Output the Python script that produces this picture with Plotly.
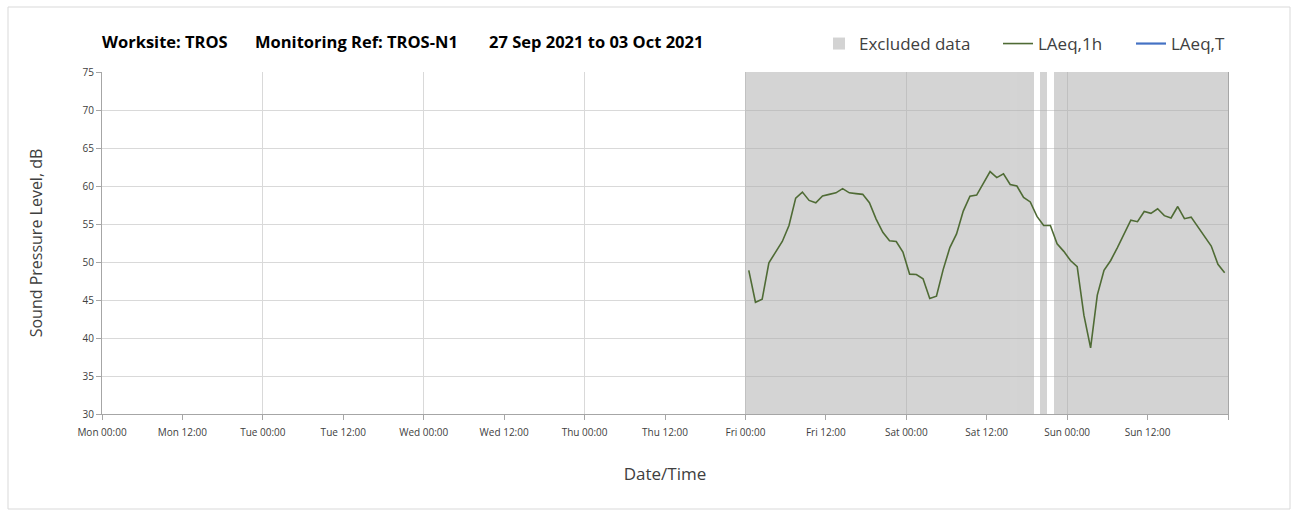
import plotly.graph_objects as go
import pandas as pd

# ---- data ----
laeq_1h = [48.9, 44.7, 45.1, 49.9, 51.3, 52.7, 54.8, 58.4, 59.2, 58.1, 57.8, 58.7,
           58.9, 59.1, 59.65, 59.1, 59.0, 58.9, 57.8, 55.65, 53.9, 52.8, 52.7, 51.3,
           48.4, 48.35, 47.8, 45.2, 45.5, 49.0, 51.9, 53.7, 56.7, 58.65, 58.8, 60.3,
           61.9, 61.1, 61.6, 60.2, 60.0, 58.5, 57.9, 56.0, 54.8, 54.8, 52.4, 51.4,
           50.2, 49.4, 43.0, 38.7, 45.65, 48.9, 50.2, 51.9, 53.7, 55.5, 55.3, 56.65,
           56.4, 57.0, 56.1, 55.8, 57.3, 55.7, 55.9, 54.65, 53.5, 52.1, 49.7, 48.6]
first_hour_mid = "2021-10-01 00:30"
times = pd.date_range(first_hour_mid, periods=len(laeq_1h), freq="h")

excluded_start = ["2021-10-01 00:00", "2021-10-02 20:00", "2021-10-02 22:00"]
excluded_end = ["2021-10-02 19:00", "2021-10-02 21:00", "2021-10-04 00:00"]

tick_vals = pd.date_range("2021-09-27", "2021-10-04", freq="12h")
tick_text = ["Mon 00:00", "Mon 12:00", "Tue 00:00", "Tue 12:00", "Wed 00:00", "Wed 12:00",
             "Thu 00:00", "Thu 12:00", "Fri 00:00", "Fri 12:00", "Sat 00:00", "Sat 12:00",
             "Sun 00:00", "Sun 12:00", ""]
day_vals = pd.date_range("2021-09-27", "2021-10-04", freq="D")
x_range = ["2021-09-27 00:00", "2021-10-04 00:00"]
y_min, y_max = 30, 75

title_parts = ["Worksite: TROS", "Monitoring Ref: TROS-N1", "27 Sep 2021 to 03 Oct 2021"]

# ---- figure ----
FONT = "Open Sans"
W, H = 1295, 510
L, R, T, B = 102, 67, 72, 96
pw, ph = W - L - R, H - T - B

ex_s = pd.to_datetime(excluded_start)
ex_e = pd.to_datetime(excluded_end)
widths_ms = [(e - s).total_seconds() * 1000 for s, e in zip(ex_s, ex_e)]


def px_x(px):
    return (px - L) / pw


def px_y(py):
    return (H - B - py) / ph


fig = go.Figure()
fig.add_trace(go.Bar(
    x=ex_s, y=[y_max - y_min] * len(ex_s), base=y_min, width=widths_ms, offset=0,
    marker=dict(color="#a9a9a9", line=dict(width=0)), opacity=0.5,
    name="Excluded data", hoverinfo="skip", legend="legend"))
fig.add_trace(go.Scatter(
    x=times, y=laeq_1h, mode="lines", name="LAeq,1h",
    line=dict(color="#4f6b35", width=1.6), legend="legend2"))
fig.add_trace(go.Scatter(
    x=[None], y=[None], mode="lines", name="LAeq,T", xaxis="x2",
    line=dict(color="#4472c4", width=2.2), legend="legend3"))

title_x = [100, 253, 487]
for txt, xx in zip(title_parts, title_x):
    fig.add_annotation(text="<b>%s</b>" % txt, xref="paper", yref="paper",
                       x=px_x(xx), y=px_y(42), xanchor="left", yanchor="middle",
                       showarrow=False, font=dict(family=FONT, size=16.5, color="#000000"))

legfont = dict(family=FONT, size=17, color="#404040")


def leg(text_start):
    return dict(orientation="h", x=px_x(text_start - 40), y=px_y(44), xanchor="left",
                yanchor="middle", font=legfont, bgcolor="rgba(0,0,0,0)", borderwidth=0)


fig.update_layout(
    width=W, height=H,
    margin=dict(l=L, r=R, t=T, b=B, pad=0),
    paper_bgcolor="white", plot_bgcolor="white",
    font=dict(family=FONT, color="#404040"),
    bargap=0,
    showlegend=True,
    legend=leg(859),
    legend2=leg(1038),
    legend3=leg(1171),
    xaxis=dict(range=x_range, type="date", tickmode="array", tickvals=tick_vals, ticktext=tick_text,
               showgrid=False, ticks="outside", ticklen=5, tickcolor="#a6a6a6",
               showline=True, linecolor="#a6a6a6", linewidth=1, ticklabelstandoff=4,
               tickfont=dict(family=FONT, size=10, color="#404040"),
               title=dict(text="Date/Time", font=dict(family=FONT, size=17, color="#404040"), standoff=30)),
    xaxis2=dict(range=x_range, type="date", overlaying="x", tickmode="array", tickvals=day_vals,
                showgrid=True, gridcolor="#d9d9d9", gridwidth=1, showticklabels=False, ticks="",
                showline=False, zeroline=False),
    yaxis=dict(range=[y_min, y_max], dtick=5, tick0=30, showgrid=True, gridcolor="#d9d9d9", gridwidth=1,
               ticks="outside", ticklen=5, tickcolor="#a6a6a6", zeroline=False,
               showline=True, linecolor="#a6a6a6", linewidth=1, mirror=True,
               tickfont=dict(family=FONT, size=10, color="#404040"),
               title=dict(text="Sound Pressure Level, dB", font=dict(family=FONT, size=16, color="#404040"),
                          standoff=35)),
)

# chart-area border
fig.add_shape(type="rect", xref="paper", yref="paper",
              x0=px_x(8), x1=px_x(1290), y0=px_y(509), y1=px_y(7),
              line=dict(color="#d9d9d9", width=1), fillcolor="rgba(0,0,0,0)", layer="above")

fig.write_html("out.html", config={"displayModeBar": False},
               post_script="document.body.style.margin='0px';")
